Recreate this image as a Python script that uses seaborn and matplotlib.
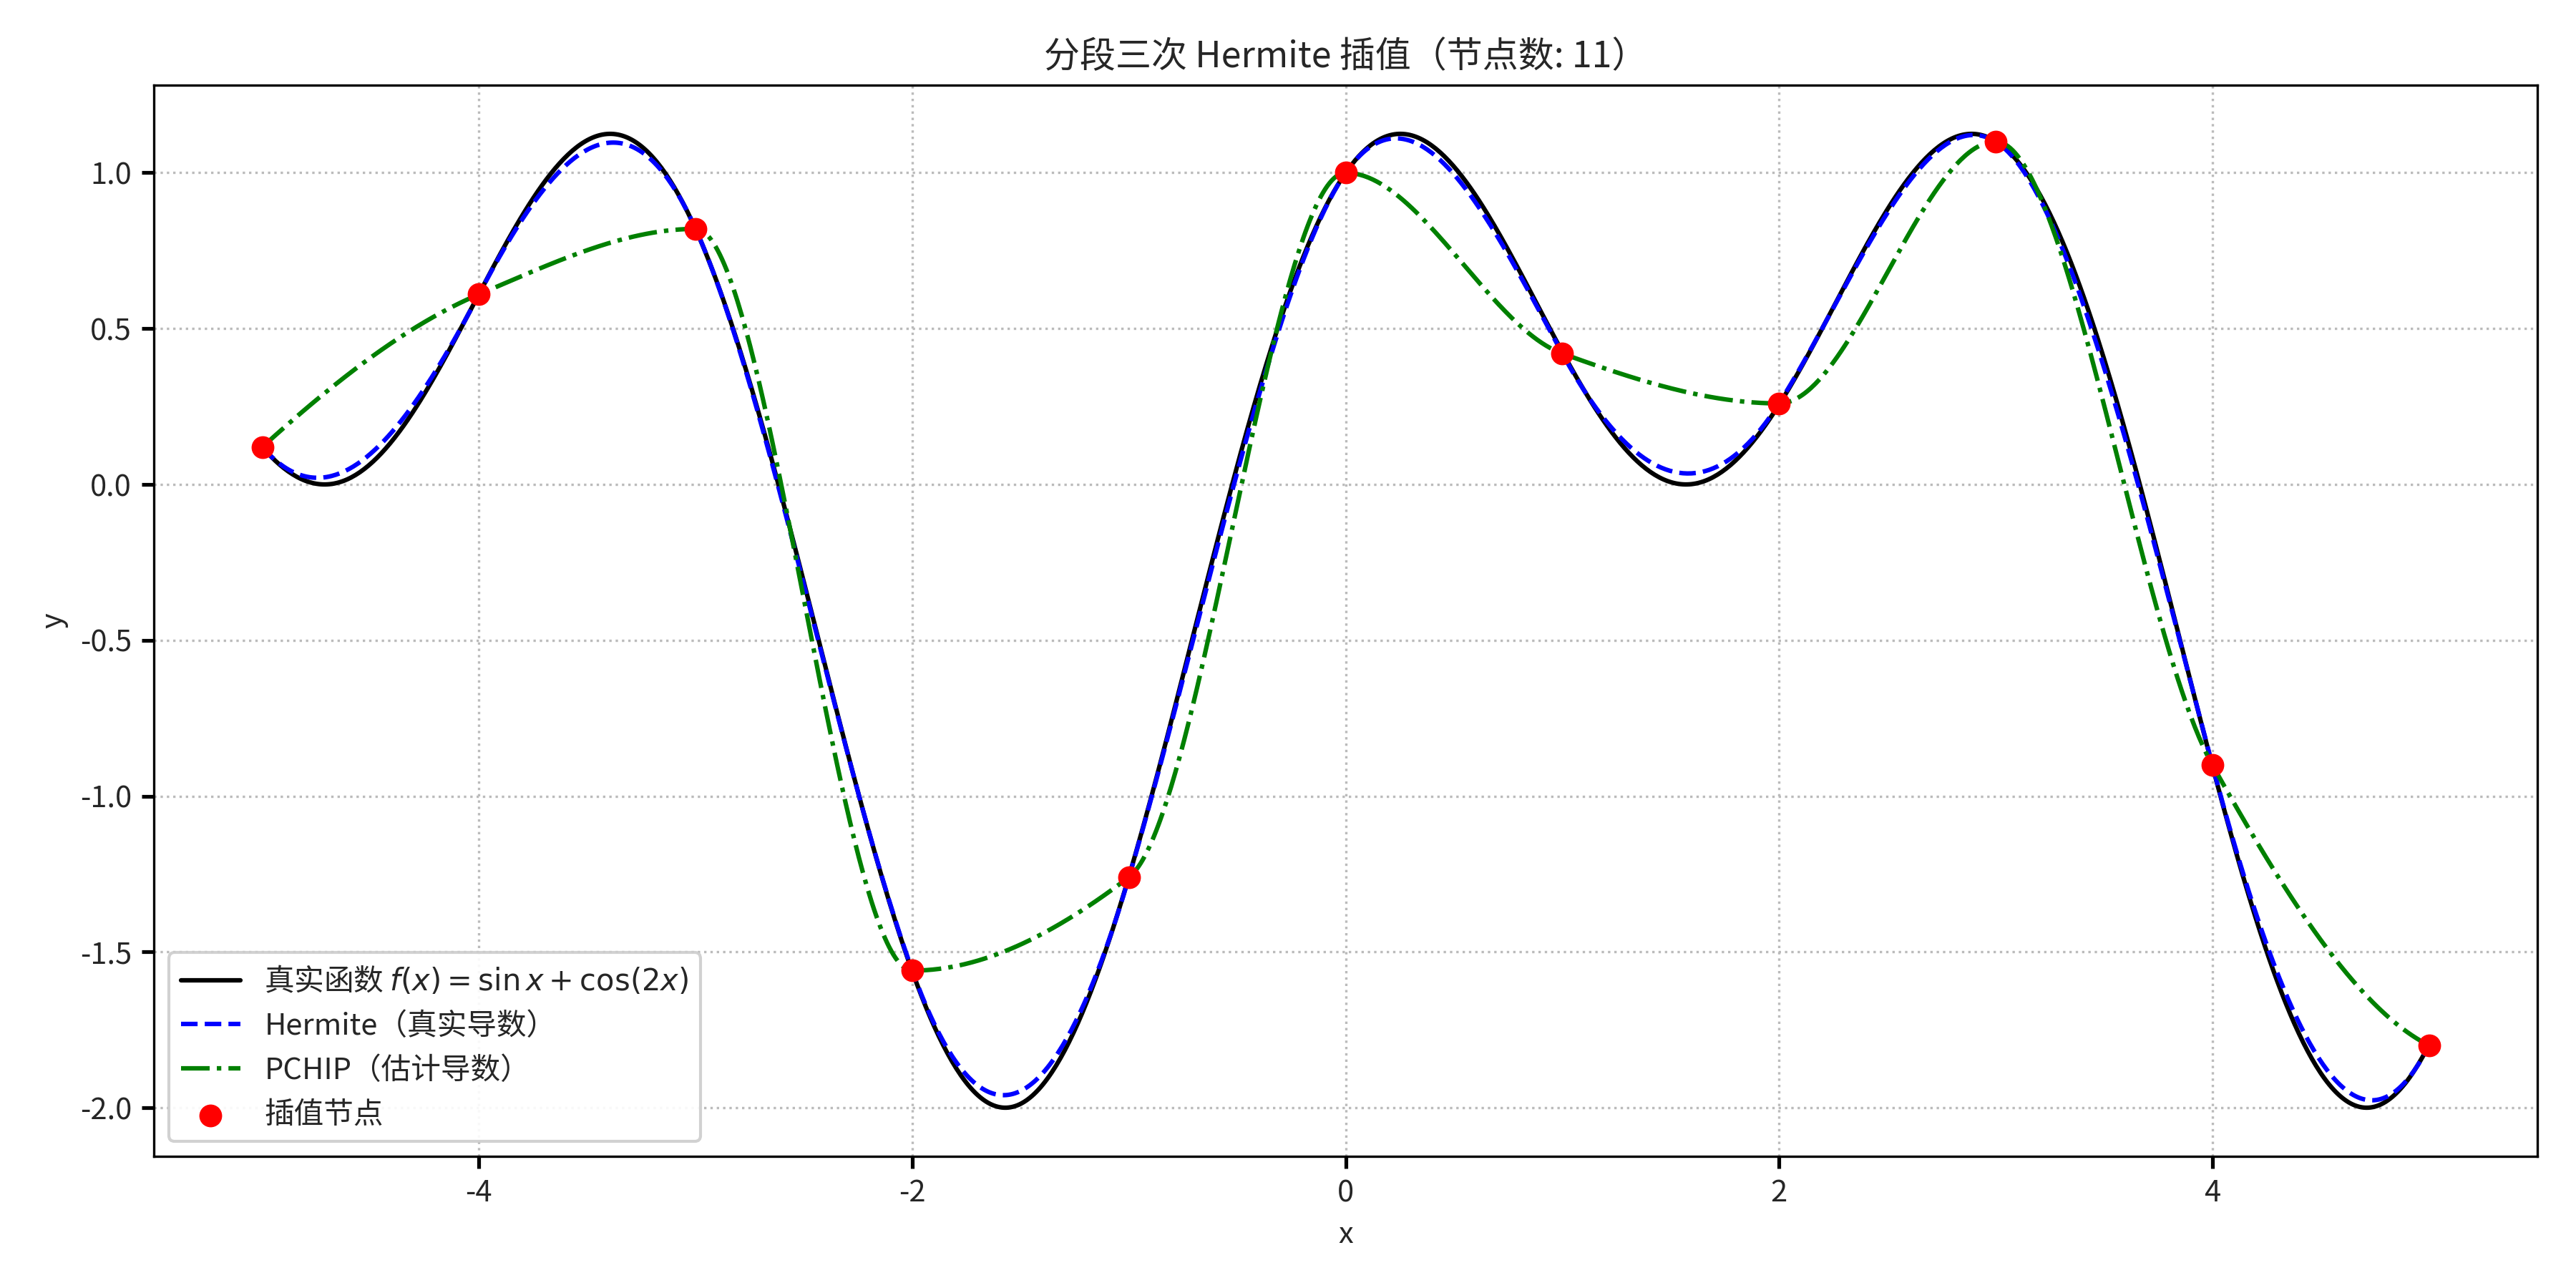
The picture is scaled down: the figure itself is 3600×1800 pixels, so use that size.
import numpy as np
import pandas as pd
import matplotlib
matplotlib.use("Agg")
import matplotlib.pyplot as plt
import seaborn as sns

node_x = [-5, -4, -3, -2, -1, 0, 1, 2, 3, 4, 5]
node_y = [0.12, 0.61, 0.82, -1.56, -1.26, 1.00, 0.42, 0.26, 1.10, -0.90, -1.80]
# true derivatives f'(x) = cos x - 2 sin 2x at nodes
node_dy = [-0.804, 1.325, -1.549, -1.930, 2.359, 1.000, -1.278, 1.097, -0.431, -2.632, 1.372]

title = "分段三次 Hermite 插值（节点数: 11）"
labels = ["真实函数 $f(x) = \\sin x + \\cos(2x)$", "Hermite（真实导数）", "PCHIP（估计导数）", "插值节点"]

sns.set_theme(style="whitegrid")
plt.rcParams['font.family'] = ['Noto Sans CJK SC', 'DejaVu Sans']
plt.rcParams['axes.unicode_minus'] = False

xn = np.array(node_x, float); yn = np.array(node_y, float); dn = np.array(node_dy, float)

def hermite(xq, x, y, d):
    out = np.empty_like(xq)
    for i, t in enumerate(xq):
        k = min(max(np.searchsorted(x, t) - 1, 0), len(x) - 2)
        h = x[k+1] - x[k]; s = (t - x[k]) / h
        h00 = 2*s**3 - 3*s**2 + 1; h10 = s**3 - 2*s**2 + s
        h01 = -2*s**3 + 3*s**2; h11 = s**3 - s**2
        out[i] = h00*y[k] + h10*h*d[k] + h01*y[k+1] + h11*h*d[k+1]
    return out

def pchip_d(x, y):
    h = np.diff(x); m = np.diff(y) / h; n = len(x); d = np.zeros(n)
    for k in range(1, n-1):
        if m[k-1]*m[k] > 0:
            w1 = 2*h[k] + h[k-1]; w2 = h[k] + 2*h[k-1]
            d[k] = (w1 + w2) / (w1/m[k-1] + w2/m[k])
    def edge(h0, h1, m0, m1):
        dd = ((2*h0 + h1)*m0 - h0*m1) / (h0 + h1)
        if np.sign(dd) != np.sign(m0): dd = 0
        elif np.sign(m0) != np.sign(m1) and abs(dd) > abs(3*m0): dd = 3*m0
        return dd
    d[0] = edge(h[0], h[1], m[0], m[1]); d[-1] = edge(h[-1], h[-2], m[-1], m[-2])
    return d

xs = np.linspace(-5, 5, 1000)
true_y = np.sin(xs) + np.cos(2*xs)
herm_y = hermite(xs, xn, yn, dn)
pchip_y = hermite(xs, xn, yn, pchip_d(xn, yn))

fig, ax = plt.subplots(figsize=(12, 6), dpi=300)
sns.lineplot(x=xs, y=true_y, ax=ax, color="black", lw=1.5, label=labels[0])
sns.lineplot(x=xs, y=herm_y, ax=ax, color="blue", lw=1.5, linestyle="--", label=labels[1])
sns.lineplot(x=xs, y=pchip_y, ax=ax, color="green", lw=1.5, linestyle="-.", label=labels[2])
sns.scatterplot(x=node_x, y=node_y, ax=ax, color="red", s=50, zorder=5, edgecolor="red", label=labels[3])

ax.set_title(title, fontsize=12)
ax.set_xlabel("x", fontsize=10); ax.set_ylabel("y", fontsize=10)
ax.set_yticks([-2.0, -1.5, -1.0, -0.5, 0.0, 0.5, 1.0])
ax.grid(True, linestyle=":", color="#bbbbbb", lw=0.8)
for s in ax.spines.values():
    s.set_color("black"); s.set_linewidth(0.8)
ax.tick_params(axis="both", which="both", length=4, color="black", labelsize=10, bottom=True, left=True)
ax.legend(loc="lower left", fontsize=10, framealpha=0.9)
fig.tight_layout()
fig.savefig("out.png", dpi=300)
